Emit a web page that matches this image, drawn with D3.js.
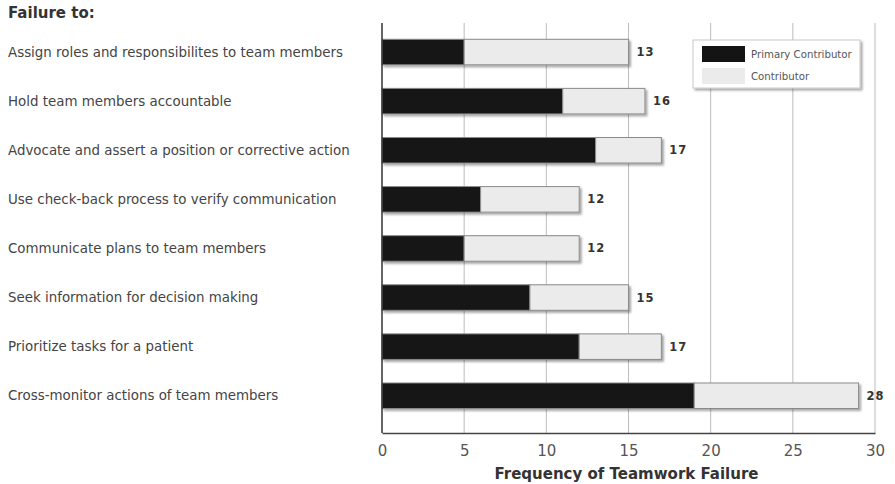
<!DOCTYPE html>
<html>
<head>
<meta charset="utf-8">
<script src="https://cdn.jsdelivr.net/npm/d3@7"></script>
<style>
  body { margin: 0; background: #fff; }
  text { font-family: "DejaVu Sans", Verdana, sans-serif; }
</style>
</head>
<body>
<div id="chart"></div>
<script>
// categories, top to bottom
var categories = [
  "Assign roles and responsibilites to team members",
  "Hold team members accountable",
  "Advocate and assert a position or corrective action",
  "Use check-back process to verify communication",
  "Communicate plans to team members",
  "Seek information for decision making",
  "Prioritize tasks for a patient",
  "Cross-monitor actions of team members"
];
var primary = [5, 11, 13, 6, 5, 9, 12, 19];
var contributor = [10, 5, 4, 6, 7, 6, 5, 10];
// printed next to each bar
var totals = [13, 16, 17, 12, 12, 15, 17, 28];
var ticks = [0, 5, 10, 15, 20, 25, 30];
var seriesNames = ["Primary Contributor", "Contributor"];

const WIDTH = 895;
const HEIGHT = 484;
const PLOT = { LEFT: 382, RIGHT: 875, TOP: 23, BOTTOM: 433 };

var color = d3.scaleOrdinal().domain(seriesNames).range(["#141414", "#ebebeb"]);

var svg = d3.select("#chart")
  .append("svg")
  .attr("width", WIDTH)
  .attr("height", HEIGHT);

var x = d3.scaleLinear().domain([0, 30]).range([PLOT.LEFT, PLOT.RIGHT]);
var y = d3.scaleBand()
  .domain(categories)
  .range([27.5, 420.3])
  .paddingInner(0.48)
  .paddingOuter(0.24);

// shadow filter for bars and legend
var defs = svg.append("defs");
var f = defs.append("filter").attr("id", "shadow")
  .attr("x", "-5%").attr("y", "-20%").attr("width", "120%").attr("height", "160%");
f.append("feDropShadow")
  .attr("dx", 2).attr("dy", 2).attr("stdDeviation", 0.8)
  .attr("flood-color", "#000").attr("flood-opacity", 0.35);

// gridlines
svg.append("g")
  .selectAll("line")
  .data(ticks.filter(function (d) { return d > 0; }))
  .enter().append("line")
  .attr("x1", function (d) { return x(d); })
  .attr("x2", function (d) { return x(d); })
  .attr("y1", PLOT.TOP)
  .attr("y2", PLOT.BOTTOM)
  .style("stroke", "#bdbdbd")
  .style("stroke-width", 1);

// stacked bars
var stackData = categories.map(function (c, i) {
  return { name: c, "Primary Contributor": primary[i], "Contributor": contributor[i] };
});
var stack = d3.stack().keys(seriesNames);
var layers = stack(stackData);

var barGroup = svg.append("g");
categories.forEach(function (c, i) {
  var g = barGroup.append("g").attr("filter", "url(#shadow)");
  layers.forEach(function (layer) {
    var d = layer[i];
    g.append("rect")
      .attr("x", x(d[0]))
      .attr("y", y(c))
      .attr("width", x(d[1]) - x(d[0]))
      .attr("height", y.bandwidth())
      .style("fill", color(layer.key))
      .style("stroke", "#8a8a8a")
      .style("stroke-width", 1);
  });
});

// value labels
svg.append("g")
  .selectAll("text")
  .data(categories)
  .enter().append("text")
  .attr("x", function (d, i) { return x(primary[i] + contributor[i]) + 8; })
  .attr("y", function (d) { return y(d) + y.bandwidth() / 2; })
  .attr("dy", "0.35em")
  .style("font-size", "11.5px")
  .style("font-weight", "bold")
  .style("letter-spacing", "1px")
  .style("fill", "#333")
  .text(function (d, i) { return totals[i]; });

// category labels
svg.append("g")
  .selectAll("text")
  .data(categories)
  .enter().append("text")
  .attr("x", 8)
  .attr("y", function (d) { return y(d) + y.bandwidth() / 2; })
  .attr("dy", "0.35em")
  .style("font-size", "13.4px")
  .style("fill", "#444")
  .text(function (d) { return d; });

svg.append("text")
  .attr("x", 8)
  .attr("y", 18)
  .style("font-size", "15px")
  .style("font-weight", "bold")
  .style("fill", "#333")
  .text("Failure to:");

// axes
var xAxis = svg.append("g")
  .attr("transform", "translate(0," + PLOT.BOTTOM + ")")
  .call(d3.axisBottom(x).tickValues(ticks).tickSize(0).tickPadding(12));
xAxis.select(".domain").style("stroke", "#444").style("stroke-width", 1.5);
xAxis.selectAll("text")
  .style("font-size", "15px")
  .style("font-family", "'DejaVu Sans', Verdana, sans-serif")
  .style("fill", "#555");

svg.append("line")
  .attr("x1", PLOT.LEFT).attr("x2", PLOT.LEFT)
  .attr("y1", PLOT.TOP).attr("y2", PLOT.BOTTOM)
  .style("stroke", "#333")
  .style("stroke-width", 1.5);

svg.append("text")
  .attr("x", (PLOT.LEFT + PLOT.RIGHT) / 2 - 2)
  .attr("y", 479)
  .attr("text-anchor", "middle")
  .style("font-size", "15px")
  .style("font-weight", "bold")
  .style("fill", "#333")
  .text("Frequency of Teamwork Failure");

// legend
var legend = svg.append("g").attr("transform", "translate(693,40)");
legend.append("rect")
  .attr("width", 167).attr("height", 48)
  .attr("filter", "url(#shadow)")
  .style("fill", "#fff")
  .style("stroke", "#c8c8c8");
seriesNames.forEach(function (s, i) {
  legend.append("rect")
    .attr("x", 9).attr("y", 6 + i * 22)
    .attr("width", 43).attr("height", 16)
    .style("fill", color(s));
  legend.append("text")
    .attr("x", 58).attr("y", 14 + i * 22)
    .attr("dy", "0.35em")
    .style("font-size", "10.2px")
    .style("fill", "#555")
    .text(s);
});
</script>
</body>
</html>
